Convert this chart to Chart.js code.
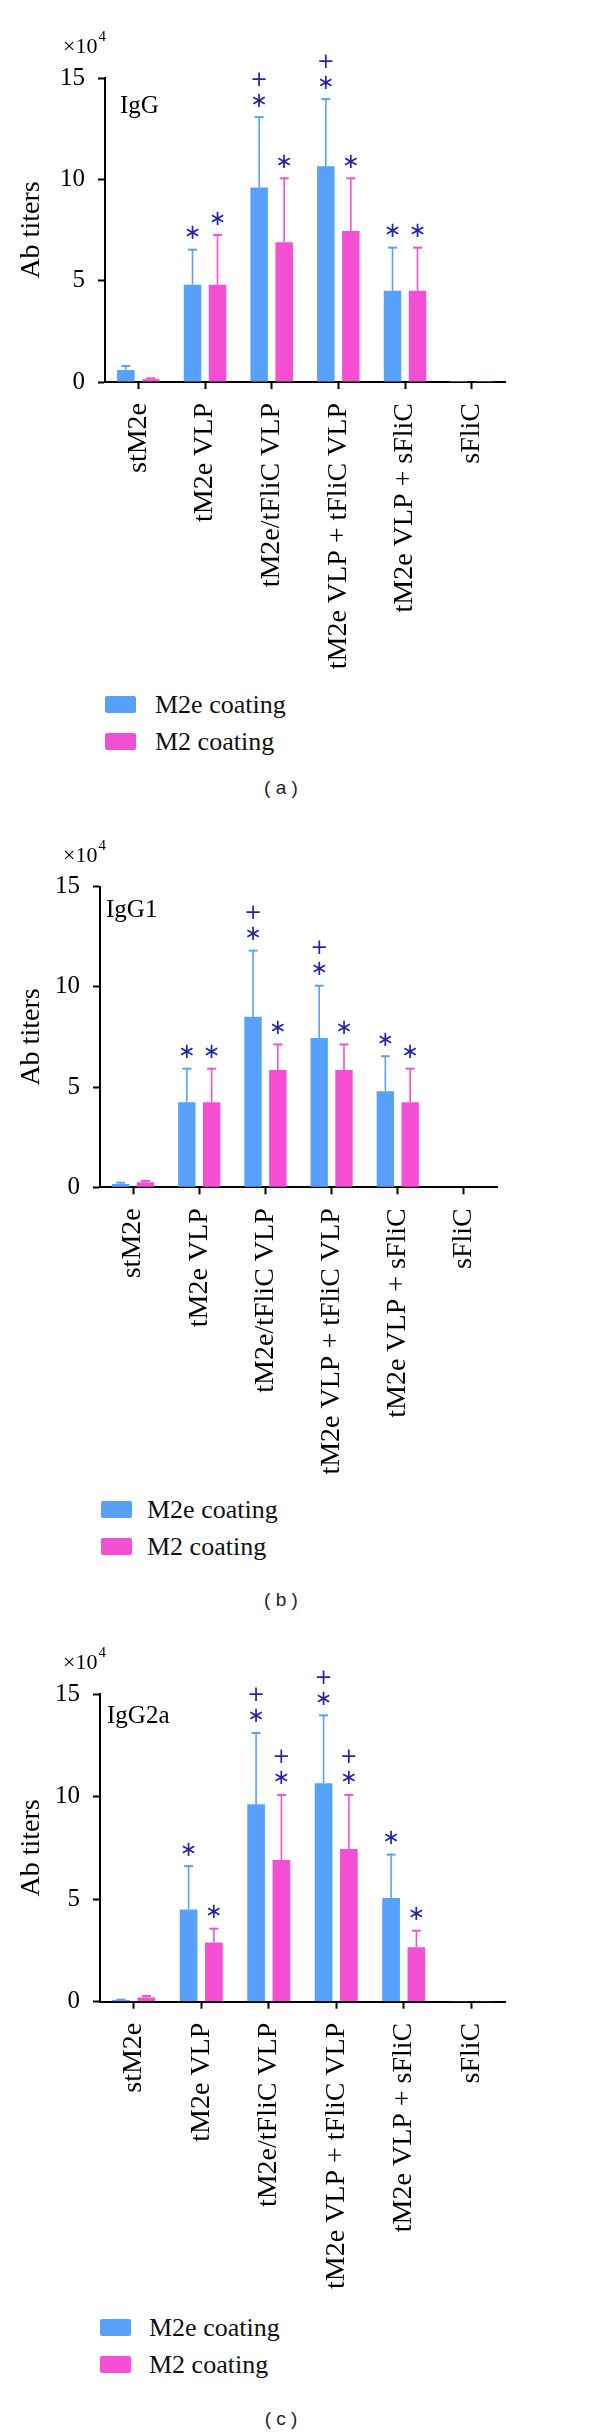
<!DOCTYPE html>
<html lang="en">
<head>
<meta charset="UTF-8">
<title>Ab titers</title>
<script src="https://cdn.jsdelivr.net/npm/chart.js"></script>
<style>
  body { margin: 0; background: #fff; }
  #page { position: relative; width: 600px; height: 2434px; overflow: hidden; }
  canvas { position: absolute; left: 0; }
  .item { position: absolute; white-space: nowrap; font-family: "Liberation Serif", serif; font-size: 26px; line-height: 17px; color: #111; }
  .box { position: absolute; width: 31px; height: 17px; border-radius: 2px; }
  .caption { position: absolute; width: 80px; text-align: center; font-family: "Liberation Sans", sans-serif; font-size: 19px; line-height: 20px; color: #222; }
</style>
</head>
<body>
<div id="page"></div>
<script>
  const categories = ["stM2e", "tM2e VLP", "tM2e/tFliC VLP", "tM2e VLP + tFliC VLP", "tM2e VLP + sFliC", "sFliC"];
  const seriesNames = ["M2e coating", "M2 coating"];
  const seriesColors = ["#58a1fb", "#f54fd4"];
  const yTicks = [0, 5, 10, 15];
  const markColor = "#2424aa";

  // (a) IgG  (x10^4), error = SD above the bar
  const iggM2e = [0.59, 4.8, 9.6, 10.65, 4.5, 0.05];
  const iggM2eErr = [0.2, 1.73, 3.47, 3.31, 2.13, 0];
  const iggM2 = [0.14, 4.8, 6.9, 7.45, 4.5, 0.05];
  const iggM2Err = [0.04, 2.45, 3.15, 2.6, 2.13, 0];
  const iggM2eMarks = ["", "*", "+*", "+*", "*", ""];
  const iggM2Marks = ["", "*", "*", "*", "*", ""];

  // (b) IgG1
  const igg1M2e = [0.17, 4.24, 8.51, 7.45, 4.79, 0.03];
  const igg1M2eErr = [0.06, 1.68, 3.3, 2.61, 1.75, 0];
  const igg1M2 = [0.25, 4.24, 5.85, 5.85, 4.24, 0.03];
  const igg1M2Err = [0.07, 1.68, 1.28, 1.28, 1.68, 0];
  const igg1M2eMarks = ["", "*", "+*", "+*", "*", ""];
  const igg1M2Marks = ["", "*", "*", "*", "*", ""];

  // (c) IgG2a
  const igg2aM2e = [0.08, 4.5, 9.62, 10.65, 5.05, 0.03];
  const igg2aM2eErr = [0.02, 2.11, 3.48, 3.31, 2.12, 0];
  const igg2aM2 = [0.2, 2.89, 6.91, 7.44, 2.65, 0.03];
  const igg2aM2Err = [0.08, 0.67, 3.17, 2.64, 0.81, 0];
  const igg2aM2eMarks = ["", "*", "+*", "+*", "*", ""];
  const igg2aM2Marks = ["", "*", "+*", "+*", "*", ""];

  const panels = [
    { name: "IgG", caption: "( a )", top: 0, height: 690,
      area: { top: 78, bottom: 382, left: 105, right: 505 }, nameDx: 15, nameDy: 35,
      legendTop: 696, legendLeft: 105, textLeft: 155, captionTop: 778,
      sets: [[iggM2e, iggM2eErr, iggM2eMarks], [iggM2, iggM2Err, iggM2Marks]] },
    { name: "IgG1", caption: "( b )", top: 810, height: 680,
      area: { top: 886.7, bottom: 1187.3, left: 100, right: 497 }, nameDx: 6, nameDy: 30,
      legendTop: 1501, legendLeft: 101, textLeft: 147, captionTop: 1590,
      sets: [[igg1M2e, igg1M2eErr, igg1M2eMarks], [igg1M2, igg1M2Err, igg1M2Marks]] },
    { name: "IgG2a", caption: "( c )", top: 1620, height: 680,
      area: { top: 1694, bottom: 2001.7, left: 100, right: 505 }, nameDx: 7, nameDy: 29,
      legendTop: 2319, legendLeft: 100, textLeft: 149, captionTop: 2409,
      sets: [[igg2aM2e, igg2aM2eErr, igg2aM2eMarks], [igg2aM2, igg2aM2Err, igg2aM2Marks]] }
  ];

  Chart.defaults.font.family = "'Liberation Serif', serif";
  Chart.defaults.color = "#000";

  // error bars + significance marks, placed through the y scale
  const errorPlugin = {
    id: "errorMarks",
    afterDatasetsDraw(chart) {
      const ctx = chart.ctx;
      const y = chart.scales.y;
      ctx.save();
      chart.data.datasets.forEach((ds, i) => {
        chart.getDatasetMeta(i).data.forEach((bar, j) => {
          const capY = y.getPixelForValue(ds.data[j] + ds.errors[j]);
          if (ds.errors[j] > 0) {
            ctx.strokeStyle = ds.backgroundColor;
            ctx.lineWidth = 1.6;
            ctx.beginPath();
            ctx.moveTo(bar.x, bar.y);
            ctx.lineTo(bar.x, capY);
            ctx.stroke();
            ctx.lineWidth = 2;
            ctx.beginPath();
            ctx.moveTo(bar.x - 4.5, capY);
            ctx.lineTo(bar.x + 4.5, capY);
            ctx.stroke();
          }
          const m = ds.marks[j];
          ctx.fillStyle = markColor;
          ctx.textAlign = "center";
          ctx.textBaseline = "middle";
          if (m.includes("*")) {
            ctx.font = "21px 'DejaVu Sans'";
            ctx.fillText("\u2217", bar.x, capY - 16);
          }
          if (m.includes("+")) {
            ctx.font = "21px 'DejaVu Sans'";
            ctx.fillText("+", bar.x, capY - 37);
          }
        });
      });
      ctx.restore();
    }
  };

  // "x10^4" and the isotype name in the corner
  const cornerPlugin = {
    id: "corner",
    afterDraw(chart, args, opts) {
      const ctx = chart.ctx;
      const a = chart.chartArea;
      ctx.save();
      ctx.fillStyle = "#000";
      ctx.textAlign = "left";
      ctx.textBaseline = "alphabetic";
      ctx.font = "22px 'Liberation Serif'";
      ctx.fillText("\u00d710", 63, a.top - 25);
      const w = ctx.measureText("\u00d710").width;
      ctx.font = "15px 'Liberation Serif'";
      ctx.fillText("4", 63 + w + 1, a.top - 37);
      ctx.font = "25px 'Liberation Serif'";
      ctx.fillText(opts.name, a.left + opts.dx, a.top + opts.dy);
      ctx.restore();
    }
  };

  const page = document.getElementById("page");

  panels.forEach((p) => {
    const canvas = document.createElement("canvas");
    canvas.width = 600;
    canvas.height = p.height;
    canvas.style.top = p.top + "px";
    page.appendChild(canvas);

    const localTop = p.area.top - p.top;
    const localBottom = p.area.bottom - p.top;

    new Chart(canvas.getContext("2d"), {
      type: "bar",
      data: {
        labels: categories,
        datasets: p.sets.map((s, i) => ({
          label: seriesNames[i],
          data: s[0],
          errors: s[1],
          marks: s[2],
          backgroundColor: seriesColors[i],
          borderWidth: 0,
          categoryPercentage: 0.75,
          barPercentage: 0.7
        }))
      },
      options: {
        responsive: false,
        animation: false,
        events: [],
        layout: { padding: { top: localTop, right: 600 - p.area.right, left: 0, bottom: 0 } },
        plugins: {
          legend: { display: false },
          tooltip: { enabled: false },
          corner: { name: p.name, dx: p.nameDx, dy: p.nameDy }
        },
        scales: {
          x: {
            grid: { offset: false, drawOnChartArea: false, tickLength: 7, tickWidth: 2, tickColor: "#000" },
            border: { color: "#000", width: 2 },
            ticks: { minRotation: 90, maxRotation: 90, autoSkip: false, padding: 14, font: { size: 28 }, color: "#000" },
            afterFit: (s) => { s.height = p.height - localBottom; }
          },
          y: {
            min: 0,
            max: 15,
            afterBuildTicks: (s) => { s.ticks = yTicks.map((v) => ({ value: v })); },
            grid: { drawOnChartArea: false, tickLength: 7, tickWidth: 2, tickColor: "#000" },
            border: { color: "#000", width: 2 },
            ticks: { padding: 13, font: { size: 25 }, color: "#000" },
            title: { display: true, text: "Ab titers", font: { size: 28 }, color: "#000", padding: { top: 15, bottom: 0 } },
            afterFit: (s) => { s.width = p.area.left; }
          }
        }
      },
      plugins: [errorPlugin, cornerPlugin]
    });

    // legend
    seriesNames.forEach((n, i) => {
      const top = p.legendTop + i * 36.5;
      const box = document.createElement("div");
      box.className = "box";
      box.style.left = p.legendLeft + "px";
      box.style.top = top + "px";
      box.style.background = seriesColors[i];
      page.appendChild(box);
      const t = document.createElement("div");
      t.className = "item";
      t.style.left = p.textLeft + "px";
      t.style.top = top + "px";
      t.textContent = n;
      page.appendChild(t);
    });

    const cap = document.createElement("div");
    cap.className = "caption";
    cap.style.left = "241px";
    cap.style.top = p.captionTop + "px";
    cap.textContent = p.caption;
    page.appendChild(cap);
  });
</script>
</body>
</html>
